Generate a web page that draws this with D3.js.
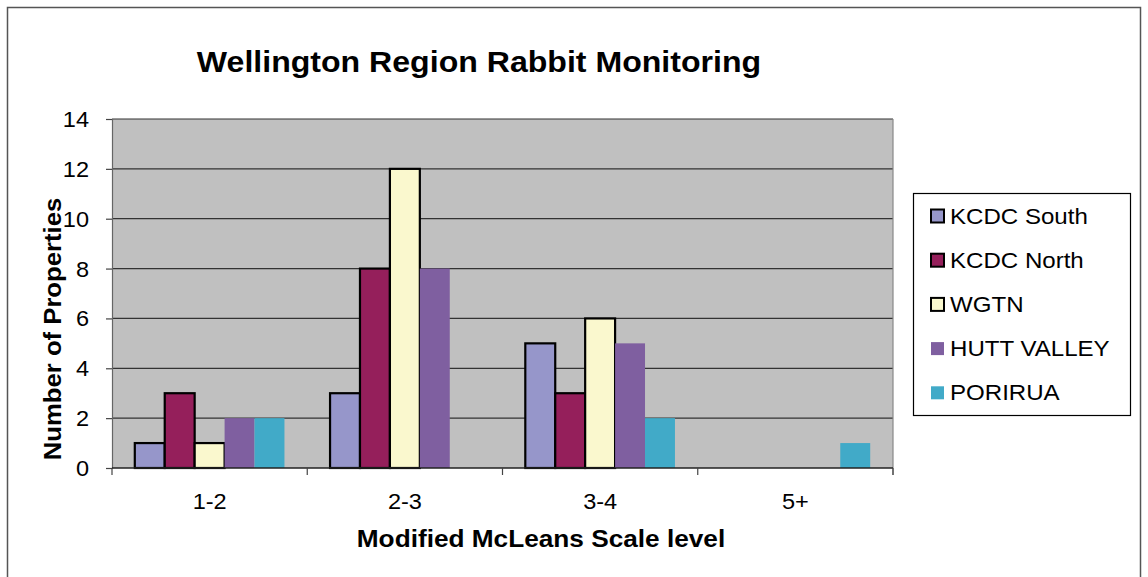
<!DOCTYPE html>
<html>
<head>
<meta charset="utf-8">
<script src="https://cdn.jsdelivr.net/npm/d3@7"></script>
<style>
  html, body { margin: 0; padding: 0; background: #fff; }
  svg { display: block; font-family: "Liberation Sans", Arial, sans-serif; }
</style>
</head>
<body>
<svg id="chart" width="1148" height="577"></svg>
<script>
// Scale levels along the x axis
const categories = ["1-2", "2-3", "3-4", "5+"];
// Monitoring areas (series)
const seriesNames = ["KCDC South", "KCDC North", "WGTN", "HUTT VALLEY", "PORIRUA"];
// Number of properties per area, one value per scale level
const kcdcSouth  = [1, 3, 5, 0];
const kcdcNorth  = [3, 8, 3, 0];
const wgtn       = [1, 12, 6, 0];
const huttValley = [2, 8, 5, 0];
const porirua    = [2, 0, 2, 1];
const yTicks = [0, 2, 4, 6, 8, 10, 12, 14];

const seriesValues = [kcdcSouth, kcdcNorth, wgtn, huttValley, porirua];
const colors = ["#9696CA", "#951F5B", "#FAF8CE", "#7F5FA0", "#41AAC8"];
const outlined = [true, true, true, false, false];

const STRETCH = 1.07; // slightly wide lettering

const svg = d3.select("#chart");

// text helper: positioned by transform so the glyphs can be widened a little
function label(parent, x, y, txt, opts = {}) {
  const rot = opts.rotate ? ` rotate(${opts.rotate})` : "";
  return parent.append("text")
    .attr("transform", `translate(${x},${y})${rot} scale(${opts.sx || STRETCH},1)`)
    .attr("text-anchor", opts.anchor || "start")
    .attr("font-size", opts.size || 22)
    .attr("font-weight", opts.weight || "normal")
    .attr("fill", "#000")
    .text(txt);
}

// outer chart frame
svg.append("rect")
  .attr("x", 7.5).attr("y", 7.5).attr("width", 1133).attr("height", 580)
  .attr("fill", "#fff").attr("stroke", "#555").attr("stroke-width", 1.5);

const plot = { left: 112, top: 119, right: 893, bottom: 468 };

const x0 = d3.scaleBand().domain(categories).range([plot.left, plot.right]).padding(0);
const x1 = d3.scaleBand().domain(seriesNames)
  .range([22.8, x0.bandwidth() - 22.8]).padding(0);
const y = d3.scaleLinear().domain([0, 14]).range([plot.bottom, plot.top]);

// plot background
svg.append("rect")
  .attr("x", plot.left).attr("y", plot.top)
  .attr("width", plot.right - plot.left).attr("height", plot.bottom - plot.top)
  .attr("fill", "#C0C0C0");

// horizontal gridlines
svg.append("g").selectAll("line").data(yTicks.filter(d => d > 0)).join("line")
  .attr("x1", plot.left).attr("x2", plot.right)
  .attr("y1", d => y(d)).attr("y2", d => y(d))
  .attr("stroke", "#333").attr("stroke-width", 1.2);

// right border of plot area
svg.append("line")
  .attr("x1", plot.right).attr("x2", plot.right)
  .attr("y1", plot.top).attr("y2", plot.bottom + 7)
  .attr("stroke", "#888").attr("stroke-width", 1.2);

// bars
const groups = svg.append("g").selectAll("g").data(categories).join("g")
  .attr("transform", d => `translate(${x0(d)},0)`);

groups.selectAll("rect")
  .data((c, ci) => seriesNames.map((s, si) => ({ s, si, v: seriesValues[si][ci] })).filter(d => d.v > 0))
  .join("rect")
  .attr("x", d => x1(d.s))
  .attr("y", d => y(d.v))
  .attr("width", x1.bandwidth())
  .attr("height", d => y(0) - y(d.v))
  .attr("fill", d => colors[d.si])
  .attr("stroke", d => outlined[d.si] ? "#000" : "none")
  .attr("stroke-width", 2.2);

// y axis
const yAxis = svg.append("g")
  .attr("transform", `translate(${plot.left},0)`)
  .call(d3.axisLeft(y).tickValues(yTicks).tickSize(6).tickFormat(""));
yAxis.select(".domain").attr("stroke", "#666").attr("stroke-width", 1.2);
yAxis.selectAll(".tick line").attr("stroke", "#444").attr("stroke-width", 1.2);
const yLabels = svg.append("g");
yTicks.forEach(t => label(yLabels, 89, y(t) + 8, d3.format("d")(t), { size: 22, anchor: "end" }));

// x axis (ticks at category boundaries)
const xAxisG = svg.append("g").attr("transform", `translate(0,${plot.bottom})`);
xAxisG.append("line")
  .attr("x1", plot.left).attr("x2", plot.right)
  .attr("stroke", "#222").attr("stroke-width", 1.5);
const bounds = categories.map(c => x0(c)).concat([plot.right]);
xAxisG.selectAll("line.tk").data(bounds).join("line").attr("class", "tk")
  .attr("x1", d => d).attr("x2", d => d).attr("y1", 0).attr("y2", 7)
  .attr("stroke", "#444").attr("stroke-width", 1.2);
categories.forEach(c => label(xAxisG, x0(c) + x0.bandwidth() / 2, 41, c, { size: 22, anchor: "middle" }));

// title
label(svg, 479, 72, "Wellington Region Rabbit Monitoring", { size: 30, weight: "bold", anchor: "middle" });

// axis titles
label(svg, 541, 547, "Modified McLeans Scale level", { size: 24.5, weight: "bold", anchor: "middle" });
label(svg, 61, 329, "Number of Properties", { size: 24, weight: "bold", anchor: "middle", rotate: -90 });

// legend
const legend = svg.append("g");
legend.append("rect")
  .attr("x", 913.5).attr("y", 193.5).attr("width", 217).attr("height", 222)
  .attr("fill", "#fff").attr("stroke", "#000").attr("stroke-width", 1.2);
const items = legend.selectAll("g.item").data(seriesNames).join("g").attr("class", "item")
  .attr("transform", (d, i) => `translate(931,${216 + i * 44.2})`);
items.append("rect")
  .attr("x", 0).attr("y", -6.5).attr("width", 13).attr("height", 13)
  .attr("fill", (d, i) => colors[i])
  .attr("stroke", (d, i) => outlined[i] ? "#000" : "none")
  .attr("stroke-width", 2);
items.each(function (d) {
  label(d3.select(this), 19, 7.5, d, { size: 22.5 });
});
</script>
</body>
</html>
